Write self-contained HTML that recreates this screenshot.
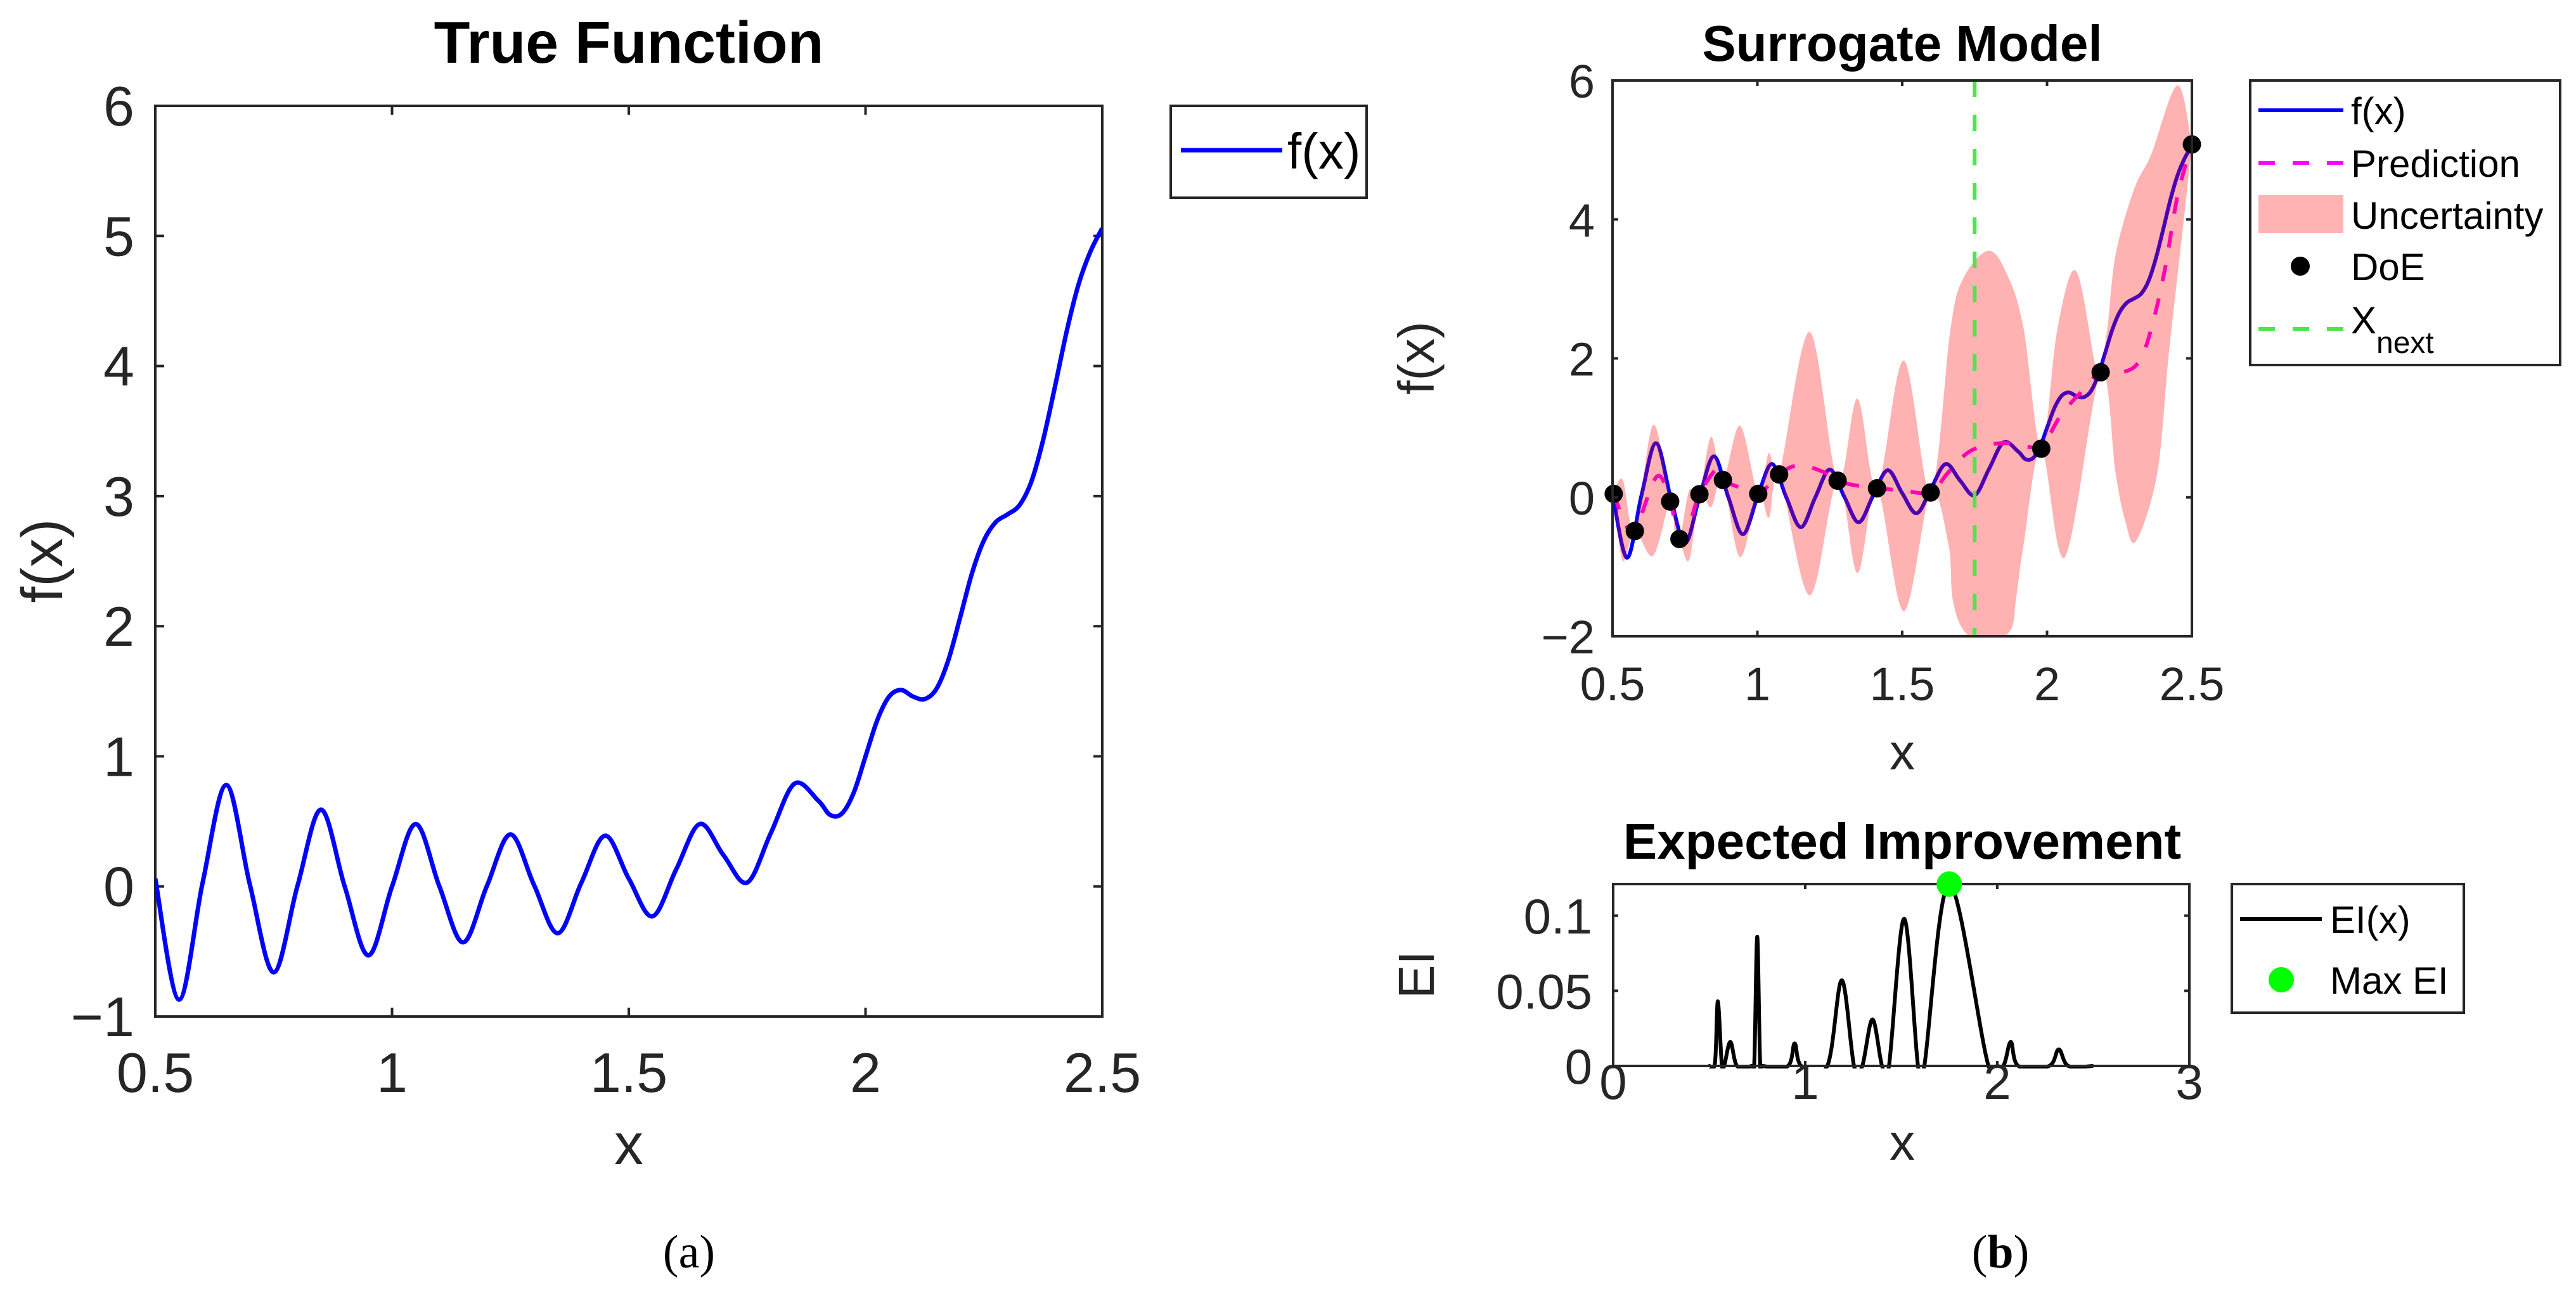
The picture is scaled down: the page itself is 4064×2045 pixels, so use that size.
<!DOCTYPE html>
<html><head><meta charset="utf-8">
<style>
html,body{margin:0;padding:0;background:#fff;}
svg{display:block;}
text{font-family:"Liberation Sans",Arial,sans-serif;}
text.serif{font-family:"Liberation Serif","Times New Roman",serif;}
</style></head>
<body>
<svg id="fig" xmlns="http://www.w3.org/2000/svg" width="4064" height="2045" viewBox="0 0 4064 2045">
<defs>
<clipPath id="clipA"><rect x="245" y="167" width="1494" height="1437"/></clipPath>
<clipPath id="clipS"><rect x="2544" y="127" width="914" height="877"/></clipPath>
<clipPath id="clipE"><rect x="2545" y="1380" width="909" height="306"/></clipPath>
</defs>
<rect width="4064" height="2045" fill="#fff"/>
<g id="root"></g>
</svg>
<script>
// ---- data: true function f(x) ----
const trueX = [0.50,0.55,0.60,0.65,0.70,0.75,0.80,0.85,0.90,0.95,1.00,1.05,1.10,1.15,1.20,1.25,1.30,1.35,1.40,1.45,1.50,1.55,1.60,1.65,1.70,1.75,1.80,1.85,1.90,1.925,1.95,1.975,2.00,2.025,2.05,2.075,2.10,2.125,2.15,2.175,2.20,2.225,2.25,2.275,2.30,2.325,2.35,2.375,2.40,2.425,2.45,2.475,2.50];
const trueY = [0.06,-0.87,0.03,0.78,0.01,-0.66,0.00,0.59,0.00,-0.53,0.00,0.48,0.00,-0.43,0.00,0.40,0.01,-0.36,0.03,0.39,0.06,-0.23,0.13,0.48,0.24,0.03,0.41,0.79,0.66,0.55,0.56,0.72,1.00,1.28,1.46,1.51,1.46,1.44,1.52,1.74,2.07,2.41,2.66,2.80,2.86,2.93,3.11,3.43,3.84,4.27,4.63,4.88,5.06];
// ---- surrogate prediction ----
const predX = [0.504,0.543,0.577,0.653,0.699,0.731,0.77,0.80,0.86,0.881,0.933,1.003,1.075,1.14,1.22,1.277,1.335,1.413,1.503,1.598,1.659,1.737,1.841,1.945,1.98,2.049,2.126,2.185,2.269,2.32,2.36,2.406,2.451,2.50];
const predY = [0.05,-0.37,-0.485,0.30,-0.06,-0.60,-0.32,0.044,0.41,0.25,0.15,0.05,0.33,0.46,0.38,0.24,0.175,0.13,0.10,0.07,0.36,0.67,0.78,0.72,0.70,1.19,1.55,1.80,1.81,1.97,2.43,3.26,4.35,5.08];
// ---- uncertainty band ----
const hiX = [0.504,0.535,0.577,0.64,0.699,0.715,0.731,0.765,0.80,0.84,0.881,0.94,1.003,1.04,1.075,1.18,1.277,1.345,1.413,1.505,1.598,1.667,1.712,1.80,1.867,1.919,1.98,2.036,2.10,2.166,2.185,2.21,2.237,2.30,2.36,2.45,2.50];
const hiY = [0.05,0.25,-0.485,1.04,-0.06,-0.15,-0.60,0.10,0.044,0.87,0.25,1.03,0.05,0.64,0.33,2.38,0.24,1.42,0.13,1.97,0.07,2.43,3.16,3.55,3.16,2.43,0.70,2.43,3.26,1.91,1.80,2.5,3.5,4.43,4.94,5.93,5.08];
const loX = [0.504,0.535,0.577,0.64,0.699,0.715,0.731,0.765,0.80,0.84,0.881,0.94,1.003,1.04,1.075,1.18,1.277,1.345,1.413,1.505,1.598,1.66,1.674,1.713,1.79,1.873,1.893,1.919,1.98,2.062,2.185,2.237,2.27,2.307,2.38,2.42,2.47,2.50];
const loY = [0.05,-0.91,-0.485,-0.84,-0.06,-0.5,-0.60,-0.9,0.044,-0.14,0.25,-0.86,0.05,-0.29,0.33,-1.41,0.24,-1.09,0.13,-1.64,0.07,-0.68,-1.46,-1.92,-2.1,-1.92,-1.46,-0.68,0.70,-0.86,1.80,0.34,-0.34,-0.63,0.34,2.05,3.92,5.08];
// ---- design of experiments ----
const doeX = [0.504,0.577,0.699,0.731,0.80,0.881,1.003,1.075,1.277,1.413,1.598,1.98,2.185,2.50];
const doeY = [0.05,-0.485,-0.06,-0.60,0.044,0.25,0.05,0.33,0.24,0.13,0.07,0.70,1.80,5.08];
const xNext = [1.75];
// ---- expected improvement ----
const eiX = [0.50,0.53,0.545,0.565,0.578,0.61,0.645,0.72,0.735,0.75,0.765,0.78,0.91,0.945,0.98,1.115,1.19,1.254,1.297,1.35,1.40,1.436,1.515,1.587,1.62,1.75,1.954,2.03,2.07,2.11,2.27,2.32,2.37,2.50];
const eiY = [0,0.002,0.043,0.002,0,0.016,0,0,0.003,0.086,0.003,0,0,0.015,0,0,0.057,0,0,0.031,0,0,0.098,0,0,0.121,0,0,0.016,0,0,0.011,0,0];
const eiMaxX = [1.75];
const eiMaxY = [0.121];
// ---- ticks ----
const aXTicks = [0.5,1,1.5,2,2.5];
const aXLabels = ["0.5","1","1.5","2","2.5"];
const aYTicks = [-1,0,1,2,3,4,5,6];
const aYLabels = ["\u22121","0","1","2","3","4","5","6"];
const sXTicks = [0.5,1,1.5,2,2.5];
const sXLabels = ["0.5","1","1.5","2","2.5"];
const sYTicks = [-2,0,2,4,6];
const sYLabels = ["\u22122","0","2","4","6"];
const eXTicks = [0,1,2,3];
const eXLabels = ["0","1","2","3"];
const eYTicks = [0,0.05,0.1];
const eYLabels = ["0","0.05","0.1"];

const NS = "http://www.w3.org/2000/svg";
const root = document.getElementById('root');
function mk(tag, attrs, parent, txt){
  const e = document.createElementNS(NS, tag);
  for (const k in attrs) e.setAttribute(k, attrs[k]);
  if (txt !== undefined) e.textContent = txt;
  (parent||root).appendChild(e);
  return e;
}
function scale(d0,d1,r0,r1){ return v => r0 + (v-d0)*(r1-r0)/(d1-d0); }
function crPath(pts){
  let d = "M" + pts[0][0].toFixed(1) + "," + pts[0][1].toFixed(1);
  for (let i=0;i<pts.length-1;i++){
    const p0 = pts[Math.max(0,i-1)], p1 = pts[i], p2 = pts[i+1], p3 = pts[Math.min(pts.length-1,i+2)];
    const c1 = [p1[0]+(p2[0]-p0[0])/6, p1[1]+(p2[1]-p0[1])/6];
    const c2 = [p2[0]-(p3[0]-p1[0])/6, p2[1]-(p3[1]-p1[1])/6];
    d += " C"+c1[0].toFixed(1)+","+c1[1].toFixed(1)+" "+c2[0].toFixed(1)+","+c2[1].toFixed(1)+" "+p2[0].toFixed(1)+","+p2[1].toFixed(1);
  }
  return d;
}
function crSegs(pts){ return crPath(pts).replace(/^M[^C]*/, ""); }

function axesBox(x0,y0,x1,y1,xt,yt,X,Y,tl,name){
  const g = mk('g',{});
  
  
  mk('rect',{x:x0,y:y0,width:x1-x0,height:y1-y0,fill:'none',stroke:'#262626','stroke-width':4},g);
  xt.forEach(v=>{ const px=X(v);
    mk('line',{x1:px,y1:y1,x2:px,y2:y1-tl,stroke:'#262626','stroke-width':4},g);
    mk('line',{x1:px,y1:y0,x2:px,y2:y0+tl,stroke:'#262626','stroke-width':4},g); });
  yt.forEach(v=>{ const py=Y(v);
    mk('line',{x1:x0,y1:py,x2:x0+tl,y2:py,stroke:'#262626','stroke-width':4},g);
    mk('line',{x1:x1,y1:py,x2:x1-tl,y2:py,stroke:'#262626','stroke-width':4},g); });
}
function tickLabels(ticks, labels, fn, attrs, name){
  ticks.forEach((v,i)=>{
    const p = fn(v);
    const t = mk('text', Object.assign({x:p[0], y:p[1], fill:'#262626'}, attrs), root, labels[i]);
    
    
  });
}
function label(x,y,txt,attrs,name){
  const t = mk('text', Object.assign({x:x,y:y}, attrs), root, txt);
  
  
  return t;
}

// ================= Panel (a) =================
const aX = scale(0.5,2.5,245,1739), aY = scale(-1,6,1604,167);
axesBox(245,167,1739,1604,aXTicks,aYTicks,aX,aY,14,'true-function-axes');
tickLabels(aXTicks,aXLabels,v=>[aX(v),1723],{'font-size':88,'text-anchor':'middle'},'x-tick-label');
tickLabels(aYTicks,aYLabels,v=>[212,aY(v)+31],{'font-size':88,'text-anchor':'end'},'y-tick-label');
const aLine = mk('path',{d:crPath(trueX.map((x,i)=>[aX(x),aY(trueY[i])])),fill:'none',stroke:'#0000ff','stroke-width':7,'clip-path':'url(#clipA)','stroke-linejoin':'round'});


label(992,99,'True Function',{'font-size':93,'font-weight':'bold','text-anchor':'middle',fill:'#000'},'chart-title');
label(992,1837,'x',{'font-size':92,'text-anchor':'middle',fill:'#262626'},'x-axis-title');
label(0,0,'f(x)',{'font-size':92,'text-anchor':'middle',fill:'#262626',transform:'translate(98,885) rotate(-90)'},'y-axis-title');
// legend a
const legA = mk('g',{});


mk('rect',{x:1847,y:167,width:309,height:145,fill:'#fff',stroke:'#262626','stroke-width':4},legA);
mk('line',{x1:1863,y1:237,x2:2023,y2:237,stroke:'#0000ff','stroke-width':7},legA);
mk('text',{x:2031,y:266,'font-size':80,fill:'#000'},legA,'f(x)');
const la = label(1087,2000,'(a)',{'font-size':74,'text-anchor':'middle',fill:'#000','class':'serif'},'subfigure-label-a');

// ================= Panel (b) surrogate =================
const sX = scale(0.5,2.5,2544,3458), sY = scale(-2,6,1004,127);
const sf = mk('path',{d:crPath(trueX.map((x,i)=>[sX(x),sY(trueY[i])])),fill:'none',stroke:'#0000ff','stroke-width':6,'clip-path':'url(#clipS)'});


const sp = mk('path',{d:crPath(predX.map((x,i)=>[sX(x),sY(predY[i])])),fill:'none',stroke:'#ff00ff','stroke-width':6,'stroke-dasharray':'26 28','clip-path':'url(#clipS)'});


const hiPts = hiX.map((x,i)=>[sX(x),sY(hiY[i])]);
const loPts = loX.map((x,i)=>[sX(x),sY(loY[i])]).reverse();
const bandD = crPath(hiPts) + " L" + loPts[0][0].toFixed(1)+","+loPts[0][1].toFixed(1) + crSegs(loPts) + " Z";
const band = mk('path',{d:bandD,fill:'#ff0000','fill-opacity':0.3,stroke:'none','clip-path':'url(#clipS)'});


xNext.forEach(v=>{
  const gl = mk('line',{x1:sX(v),y1:127,x2:sX(v),y2:1004,stroke:'#4ee44e','stroke-width':6,'stroke-dasharray':'26 28'});
  
  
});
doeX.forEach((x,i)=>{
  const c = mk('circle',{cx:sX(x),cy:sY(doeY[i]),r:14.5,fill:'#000'});
  
  
});
axesBox(2544,127,3458,1004,sXTicks,sYTicks,sX,sY,9,'surrogate-axes');
tickLabels(sXTicks,sXLabels,v=>[sX(v),1105],{'font-size':74,'text-anchor':'middle'},'x-tick-label');
tickLabels(sYTicks,sYLabels,v=>[2516,sY(v)+27],{'font-size':74,'text-anchor':'end'},'y-tick-label');
label(3001,96,'Surrogate Model',{'font-size':80,'font-weight':'bold','text-anchor':'middle',fill:'#000'},'surrogate-title');
label(3001,1214,'x',{'font-size':80,'text-anchor':'middle',fill:'#262626'},'x-axis-title');
label(0,0,'f(x)',{'font-size':80,'text-anchor':'middle',fill:'#262626',transform:'translate(2262,565) rotate(-90)'},'y-axis-title');
// legend b
const legB = mk('g',{});


mk('rect',{x:3550,y:127,width:489,height:449,fill:'#fff',stroke:'#262626','stroke-width':4},legB);
mk('line',{x1:3563,y1:174,x2:3697,y2:174,stroke:'#0000ff','stroke-width':6},legB);
mk('text',{x:3709,y:196,'font-size':60,fill:'#000'},legB,'f(x)');
mk('line',{x1:3563,y1:257,x2:3697,y2:257,stroke:'#ff00ff','stroke-width':6,'stroke-dasharray':'26 28'},legB);
mk('text',{x:3709,y:279,'font-size':60,fill:'#000'},legB,'Prediction');
mk('rect',{x:3563,y:308,width:134,height:60,fill:'#ffb3b3'},legB);
mk('text',{x:3709,y:361,'font-size':60,fill:'#000'},legB,'Uncertainty');
mk('circle',{cx:3629,cy:420,r:15,fill:'#000'},legB);
mk('text',{x:3709,y:442,'font-size':60,fill:'#000'},legB,'DoE');
mk('line',{x1:3563,y1:519,x2:3697,y2:519,stroke:'#4ee44e','stroke-width':6,'stroke-dasharray':'26 28'},legB);
const xn = mk('text',{x:3709,y:526,'font-size':60,fill:'#000'},legB,'X');
mk('tspan',{dy:31,'font-size':48},xn,'next');

// ================= Panel (b) EI =================
const eX = scale(0,3,2545,3454), eY = scale(0,0.121,1682,1395);
const eiLine = mk('path',{d:crPath(eiX.map((x,i)=>[eX(x),eY(eiY[i])])),fill:'none',stroke:'#000','stroke-width':6,'clip-path':'url(#clipE)'});


axesBox(2545,1395,3454,1682,eXTicks,eYTicks,eX,eY,8,'ei-axes');
eiMaxX.forEach((x,i)=>{
  const c = mk('circle',{cx:eX(x),cy:eY(eiMaxY[i]),r:20,fill:'#00ff00'});
  
  
});
tickLabels(eXTicks,eXLabels,v=>[eX(v),1734],{'font-size':78,'text-anchor':'middle'},'x-tick-label');
tickLabels(eYTicks,eYLabels,v=>[2512,eY(v)+28],{'font-size':78,'text-anchor':'end'},'y-tick-label');
label(3001,1355,'Expected Improvement',{'font-size':80,'font-weight':'bold','text-anchor':'middle',fill:'#000'},'ei-title');
label(3001,1830,'x',{'font-size':80,'text-anchor':'middle',fill:'#262626'},'x-axis-title');
label(0,0,'EI',{'font-size':80,'text-anchor':'middle',fill:'#262626',transform:'translate(2262,1538) rotate(-90)'},'y-axis-title');
const legC = mk('g',{});


mk('rect',{x:3521,y:1395,width:366,height:203,fill:'#fff',stroke:'#262626','stroke-width':4},legC);
mk('line',{x1:3534,y1:1450,x2:3663,y2:1450,stroke:'#000','stroke-width':6},legC);
mk('text',{x:3676,y:1472,'font-size':60,fill:'#000'},legC,'EI(x)');
mk('circle',{cx:3599,cy:1546,r:20,fill:'#00ff00'},legC);
mk('text',{x:3676,y:1568,'font-size':60,fill:'#000'},legC,'Max EI');
const lb = label(3156,2000,'(',{'font-size':74,'text-anchor':'middle',fill:'#000','class':'serif'},'subfigure-label-b');
mk('tspan',{'font-weight':'bold'},lb,'b');
mk('tspan',{},lb,')');
</script>
</body></html>
